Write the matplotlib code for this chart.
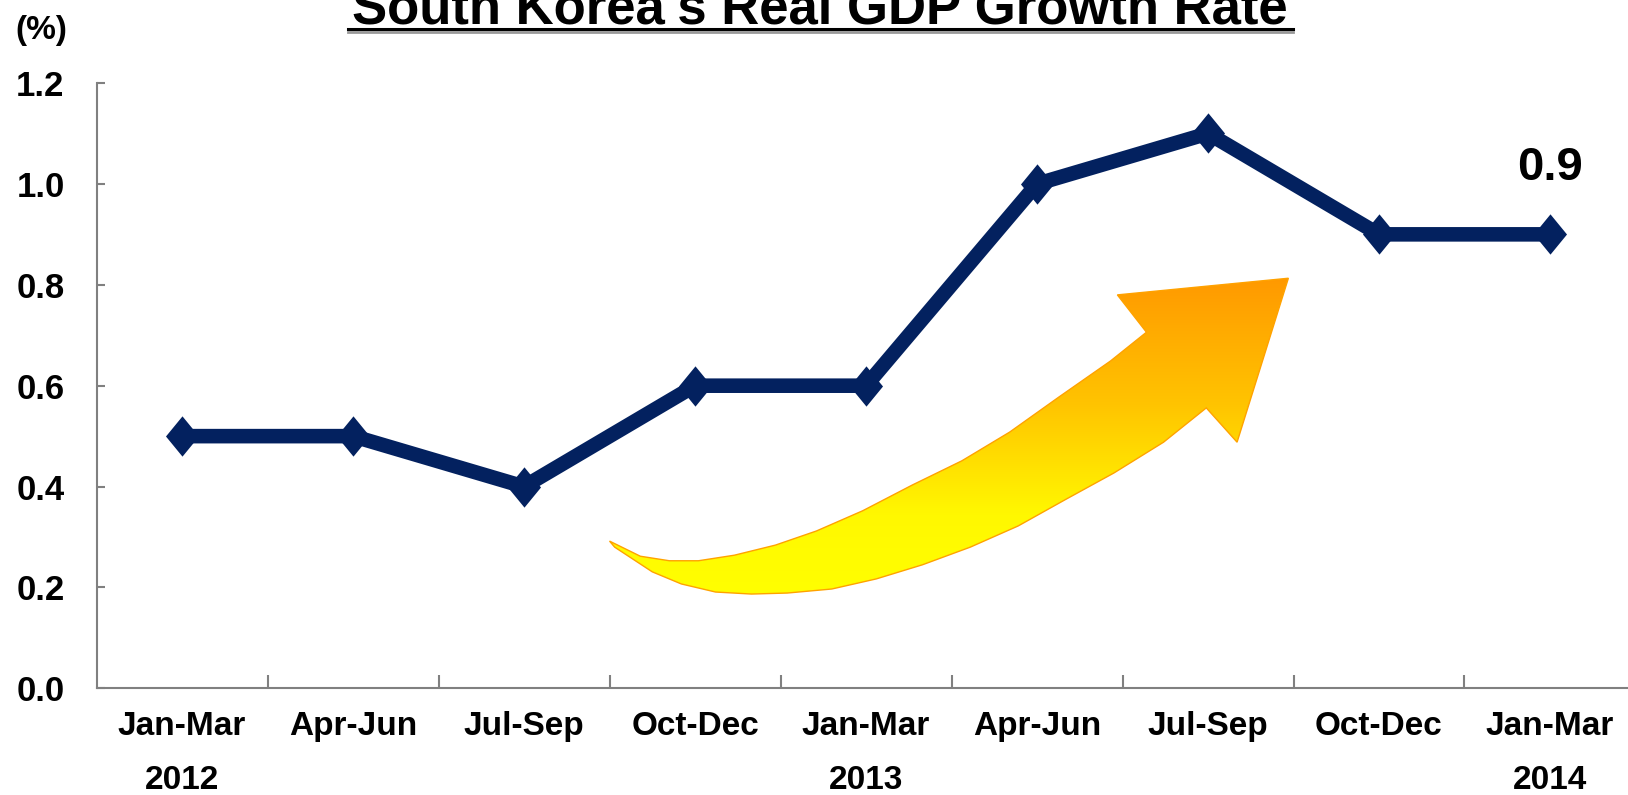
import numpy as np
import matplotlib

matplotlib.use("Agg")
import matplotlib.pyplot as plt
import matplotlib.transforms as mtransforms
from matplotlib.path import Path
from matplotlib.patches import Polygon
from matplotlib.lines import Line2D
from matplotlib.colors import LinearSegmentedColormap

plt.rcParams["font.family"] = ["Liberation Sans", "DejaVu Sans"]
plt.rcParams["font.weight"] = "bold"

quarters = ["Jan-Mar", "Apr-Jun", "Jul-Sep", "Oct-Dec", "Jan-Mar",
            "Apr-Jun", "Jul-Sep", "Oct-Dec", "Jan-Mar"]
growth = [0.5, 0.5, 0.4, 0.6, 0.6, 1.0, 1.1, 0.9, 0.9]
years = ["2012", "2013", "2014"]
year_idx = [0, 4, 8]
yticks = [0.0, 0.2, 0.4, 0.6, 0.8, 1.0, 1.2]

# outline of the decorative rising arrow (category units, %)
arrow_x = [2.50, 2.68, 2.85, 3.02, 3.23, 3.47, 3.71, 3.98, 4.27, 4.56, 4.84,
           5.13, 5.43, 5.64, 5.47, 6.47, 6.17, 5.99, 5.74, 5.45, 5.17, 4.89,
           4.61, 4.33, 4.06, 3.80, 3.54, 3.33, 3.12, 2.92, 2.75, 2.53]
arrow_y = [0.292, 0.262, 0.253, 0.253, 0.264, 0.284, 0.312, 0.352, 0.403,
           0.451, 0.508, 0.578, 0.649, 0.706, 0.780, 0.813, 0.488, 0.556,
           0.488, 0.427, 0.375, 0.322, 0.280, 0.245, 0.217, 0.197, 0.189,
           0.187, 0.191, 0.207, 0.231, 0.280]

navy = "#03215F"
grey = "#808080"

fig = plt.figure(figsize=(16.28, 7.95), dpi=100)
ax = fig.add_axes([0.0593, 0.1341, 0.9453, 0.7615])

x = np.arange(len(quarters))

# gradient arrow
pts = np.column_stack([arrow_x, arrow_y])
poly = Polygon(pts, closed=True, facecolor="none", edgecolor="#FFA200",
               linewidth=1.0, zorder=2)
ax.add_patch(poly)
cmap = LinearSegmentedColormap.from_list(
    "arw", [(0, "#FFFF00"), (0.25, "#FFF800"), (0.6, "#FFC400"), (1, "#FF9900")])
grad = np.linspace(0, 1, 256).reshape(-1, 1)
img = ax.imshow(grad, cmap=cmap, origin="lower", aspect="auto",
                extent=[min(arrow_x), max(arrow_x), min(arrow_y), max(arrow_y)],
                zorder=1)
img.set_clip_path(poly)

# diamond marker, a bit taller than wide
diamond = Path([(0, 1), (0.82, 0), (0, -1), (-0.82, 0), (0, 1)],
               [Path.MOVETO, Path.LINETO, Path.LINETO, Path.LINETO, Path.CLOSEPOLY])
ax.plot(x, growth, color=navy, linewidth=10.5, marker=diamond,
        markersize=29, markeredgewidth=0, solid_joinstyle="miter", zorder=3)

ax.annotate(f"{growth[-1]:.1f}", xy=(x[-1], growth[-1]), xytext=(0, 48),
            textcoords="offset points", ha="center", va="center",
            fontsize=34, fontweight="bold", annotation_clip=False)

ax.set_xlim(-0.5, len(quarters) - 0.5)
ax.set_ylim(0, 1.2)

ax.set_xticks(x)
ax.set_xticklabels(quarters, fontsize=24, fontweight="bold")
ax.set_xticks(np.arange(0.5, len(quarters), 1), minor=True)
ax.tick_params(axis="x", which="major", length=0, pad=16)
ax.tick_params(axis="x", which="minor", direction="in", length=9.5,
               width=1.5, color=grey)

ax.set_yticks(yticks)
ax.set_yticklabels([f"{v:.1f}" for v in yticks], fontsize=25, fontweight="bold")
ax.tick_params(axis="y", direction="in", length=6, width=1.5, color=grey, pad=23)

for s in ["top", "right"]:
    ax.spines[s].set_visible(False)
for s in ["left", "bottom"]:
    ax.spines[s].set_color(grey)
    ax.spines[s].set_linewidth(1.5)

# year labels under the first quarter of each year
trans = mtransforms.blended_transform_factory(ax.transData, fig.transFigure)
for yr, i in zip(years, year_idx):
    fig.text(x[i], 1 - 789 / 795, yr, transform=trans, ha="center",
             va="baseline", fontsize=24, fontweight="bold")

fig.text(41 / 1628, 1 - 30 / 795, "(%)", ha="center", va="center",
         fontsize=24, fontweight="bold")

# title partly cut off at the top, underlined
fig.text(820 / 1628, 1 - 24 / 795, "South Korea's Real GDP Growth Rate",
         ha="center", va="baseline", fontsize=38, fontweight="bold")
fig.add_artist(Line2D([348 / 1628, 1293 / 1628], [1 - 32 / 795, 1 - 32 / 795],
                      transform=fig.transFigure, color="#999999", linewidth=2))
fig.add_artist(Line2D([348 / 1628, 1293 / 1628], [1 - 29 / 795, 1 - 29 / 795],
                      transform=fig.transFigure, color="black", linewidth=2.2))

fig.savefig("out.png", dpi=100)
